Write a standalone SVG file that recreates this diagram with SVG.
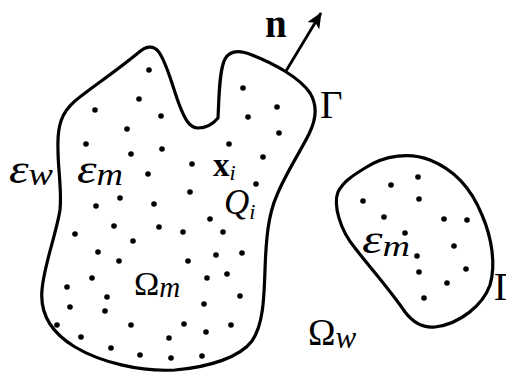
<svg xmlns="http://www.w3.org/2000/svg" width="506" height="372" viewBox="0 0 506 372">
<defs>
<style>
.region{fill:none;stroke:#000;stroke-width:3.2;stroke-linejoin:round}
.dot{fill:#000}
.lbl{font-family:"Liberation Serif","DejaVu Serif",serif;fill:#000}
.it{font-style:italic}
.bf{font-weight:bold}
.arrow{stroke:#000;stroke-width:2.8;fill:none}
</style>
<marker id="head" viewBox="0 0 16 14" refX="15" refY="7" markerWidth="16" markerHeight="14" markerUnits="userSpaceOnUse" orient="auto">
<path d="M0,0 L16,7 L0,14 L4,7 Z" fill="#000"/>
</marker>
<circle id="d" r="2.8" class="dot"/>
</defs>
<rect width="506" height="372" fill="#fff"/>
<g id="region-m">
<path class="region" d="M58,150 C57,125 62,112 75,101 C88,90 115,72 138,53 C146,46 153,45 158,51 C166,60 172,85 179,104 C185,120 190,128 198,128 C206,128 213,124 218,118 C219,100 219,70 225,59 C230,50 240,50 252,55 C275,64 300,78 310,93 C318,106 316,120 309,134 C300,152 285,175 277,195 C268,215 266,240 265,270 C264,300 263,325 252,341 C240,357 210,367 175,370 C140,372 100,362 75,347 C50,332 40,312 42,290 C44,265 56,235 60,210 C62,190 58,170 58,150 Z"/>
<g id="charges-m">
<use href="#d" x="149" y="70"/><use href="#d" x="243" y="88"/><use href="#d" x="139" y="99"/><use href="#d" x="277" y="107"/><use href="#d" x="95" y="110"/><use href="#d" x="161" y="116"/><use href="#d" x="248" y="117"/><use href="#d" x="127" y="129"/><use href="#d" x="279" y="133"/><use href="#d" x="86" y="144"/><use href="#d" x="229" y="144"/><use href="#d" x="162" y="149"/><use href="#d" x="131" y="154"/><use href="#d" x="263" y="157"/><use href="#d" x="192" y="164"/><use href="#d" x="148" y="174"/><use href="#d" x="256" y="184"/>
<use href="#d" x="190" y="192"/><use href="#d" x="120" y="198"/><use href="#d" x="96" y="206"/><use href="#d" x="154" y="204"/><use href="#d" x="210" y="219"/><use href="#d" x="114" y="226"/><use href="#d" x="159" y="227"/><use href="#d" x="183" y="232"/><use href="#d" x="223" y="232"/><use href="#d" x="75" y="234"/><use href="#d" x="133" y="241"/><use href="#d" x="98" y="252"/><use href="#d" x="216" y="255"/><use href="#d" x="242" y="253"/><use href="#d" x="119" y="261"/><use href="#d" x="188" y="261"/><use href="#d" x="92" y="278"/><use href="#d" x="207" y="278"/><use href="#d" x="227" y="274"/><use href="#d" x="67" y="287"/><use href="#d" x="107" y="297"/><use href="#d" x="240" y="296"/><use href="#d" x="204" y="304"/><use href="#d" x="70" y="307"/><use href="#d" x="105" y="311"/><use href="#d" x="57" y="325"/><use href="#d" x="131" y="325"/><use href="#d" x="184" y="324"/><use href="#d" x="231" y="325"/><use href="#d" x="81" y="337"/><use href="#d" x="206" y="332"/><use href="#d" x="169" y="338"/><use href="#d" x="111" y="348"/><use href="#d" x="140" y="355"/><use href="#d" x="171" y="358"/><use href="#d" x="202" y="356"/>
</g>
<text class="lbl it" x="77" y="183" font-size="42" textLength="46" lengthAdjust="spacingAndGlyphs">ε<tspan font-size="31" dy="2">m</tspan></text>
<text class="lbl" x="213" y="176" font-size="33"><tspan class="bf">x</tspan><tspan class="it" font-size="22" dy="4">i</tspan></text>
<text class="lbl it" x="224" y="214" font-size="35">Q<tspan font-size="22" dy="5">i</tspan></text>
<text class="lbl" x="134" y="295" font-size="34">Ω<tspan class="it" font-size="29" dy="2">m</tspan></text>
<text class="lbl" x="320" y="118" font-size="39">Γ</text>
</g>
<g id="region-small">
<path class="region" d="M338,192 C333,205 340,230 355,248 C372,270 390,290 405,312 C415,325 425,328 435,327 C460,324 483,305 490,285 C496,265 492,238 482,215 C472,190 455,170 430,160 C410,152 385,155 365,168 C352,176 343,182 338,192 Z"/>
<g id="charges-small">
<use href="#d" x="418" y="177"/><use href="#d" x="391" y="185"/><use href="#d" x="363" y="201"/><use href="#d" x="419" y="199"/><use href="#d" x="384" y="217"/><use href="#d" x="444" y="219"/><use href="#d" x="467" y="220"/><use href="#d" x="405" y="233"/><use href="#d" x="454" y="246"/><use href="#d" x="417" y="256"/><use href="#d" x="419" y="272"/><use href="#d" x="466" y="269"/><use href="#d" x="447" y="283"/><use href="#d" x="424" y="298"/>
</g>
<text class="lbl it" x="362" y="253" font-size="41" textLength="48" lengthAdjust="spacingAndGlyphs">ε<tspan font-size="30" dy="3">m</tspan></text>
<text class="lbl" x="494" y="300" font-size="39">Γ</text>
</g>
<g id="solvent">
<text class="lbl it" x="9" y="183" font-size="42" textLength="44" lengthAdjust="spacingAndGlyphs">ε<tspan font-size="31" dy="2">w</tspan></text>
<text class="lbl" x="308" y="345" font-size="37">Ω<tspan class="it" font-size="31" dy="3">w</tspan></text>
</g>
<g id="connectors">
<line class="arrow" x1="286" y1="71" x2="321" y2="13" marker-end="url(#head)"/>
<text class="lbl bf" x="265" y="37" font-size="39">n</text>
</g>
</svg>
